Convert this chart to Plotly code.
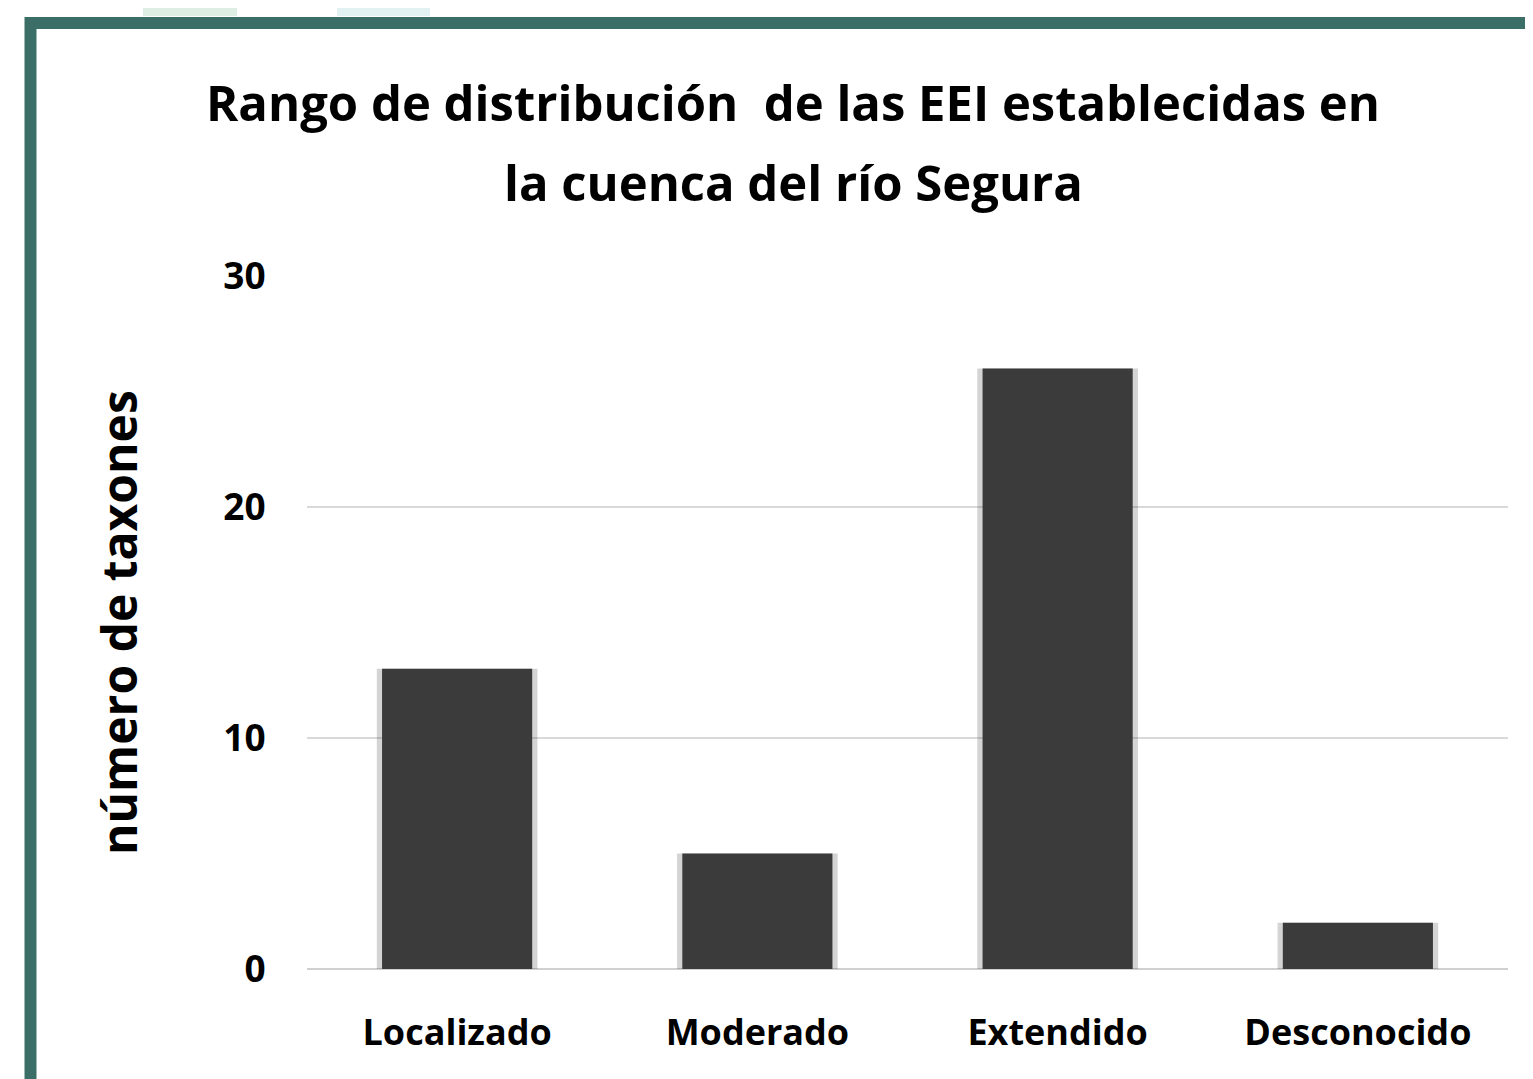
import plotly.graph_objects as go

categories = ["Localizado", "Moderado", "Extendido", "Desconocido"]
values = [13, 5, 26, 2]
y_ticks = [0, 10, 20, 30]

# page body has an 8px margin; work in reference-pixel coordinates and shift
OFF = 8
W, H = 1533 - OFF, 1079 - OFF
L, R, T, B = 307 - OFF, 25, 276 - OFF, 110
pw, ph = W - L - R, H - T - B

def px(x):
    return (x - OFF - L) / pw

def py(y):
    return (H - B - (y - OFF)) / ph

FONT = "Open Sans"

fig = go.Figure()
# soft shadow
fig.add_trace(go.Bar(x=categories, y=values, width=0.535, offset=-0.2675,
                     marker=dict(color="rgba(0,0,0,0.17)", line=dict(width=0)),
                     hoverinfo="skip", showlegend=False))
fig.add_trace(go.Bar(x=categories, y=values, width=0.5, offset=-0.25,
                     marker=dict(color="#3b3b3b", line=dict(width=0)),
                     showlegend=False))

fig.update_layout(
    width=W, height=H,
    margin=dict(l=L, r=R, t=T, b=B),
    paper_bgcolor="white", plot_bgcolor="white",
    barmode="overlay",
    font=dict(family=FONT, color="black"),
    xaxis=dict(showgrid=False, zeroline=False, showline=False,
               ticks="outside", ticklen=32, tickcolor="rgba(0,0,0,0)",
               tickfont=dict(family=FONT, size=36, color="black", weight="bold")),
    yaxis=dict(range=[0, 30], tickvals=y_ticks, showgrid=True, gridcolor="#d9d9d9",
               gridwidth=2, zeroline=True, zerolinecolor="#d0d0d0", zerolinewidth=2,
               showline=False, ticks="outside", ticklen=33, tickcolor="rgba(0,0,0,0)",
               tickfont=dict(family=FONT, size=37, color="black", weight="bold")),
)

# title (two lines)
title_lines = ["Rango de distribución  de las EEI establecidas en", "la cuenca del río Segura"]
for line, yc in zip(title_lines, [102, 182]):
    fig.add_annotation(text=line, xref="paper", yref="paper", x=px(793), y=py(yc),
                       showarrow=False, xanchor="center", yanchor="middle",
                       font=dict(family=FONT, size=49, color="black", weight="bold"))
# y-axis title
fig.add_annotation(text="número de taxones", xref="paper", yref="paper",
                   x=px(118), y=py(623), textangle=-90, showarrow=False,
                   xanchor="center", yanchor="middle",
                   font=dict(family=FONT, size=48, color="black", weight="bold"))

# frame border (teal) and faint decoration above
fig.add_shape(type="path", xref="paper", yref="paper",
              path=f"M {px(30.5)},{py(1095)} L {px(30.5)},{py(23)} L {px(1560)},{py(23)}",
              line=dict(color="#3a6e66", width=12), layer="above")
fig.add_shape(type="rect", xref="paper", yref="paper",
              x0=px(143), x1=px(237), y0=py(-5), y1=py(16),
              fillcolor="#dfeee4", line=dict(width=0), layer="below")
fig.add_shape(type="rect", xref="paper", yref="paper",
              x0=px(337), x1=px(430), y0=py(-5), y1=py(16),
              fillcolor="#e2f2f2", line=dict(width=0), layer="below")

fig.write_html("out.html")
